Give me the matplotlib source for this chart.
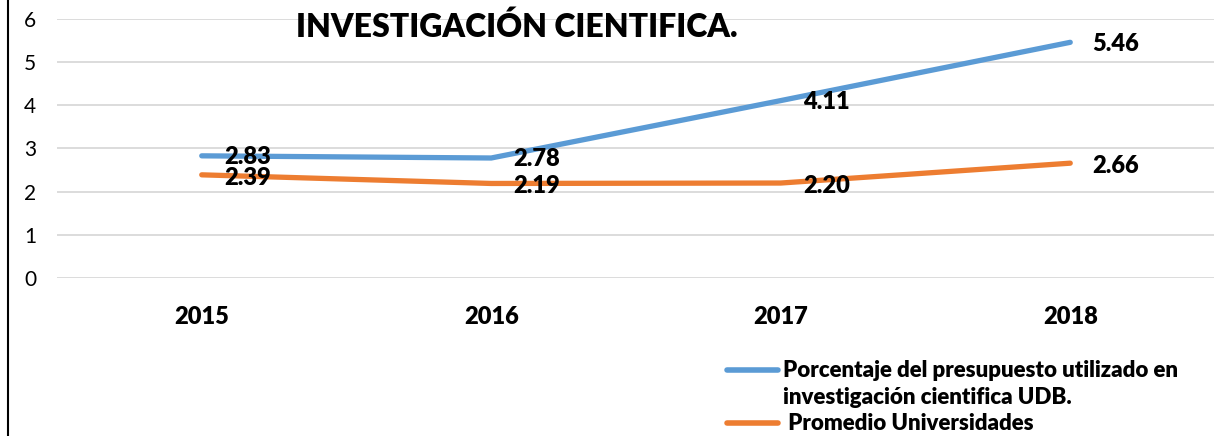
import matplotlib
matplotlib.use('Agg')

import matplotlib.pyplot as plt
from matplotlib.lines import Line2D


# ===============================
# DATA
# ===============================
years = ["2015", "2016", "2017", "2018"]
udb_pct = [2.83, 2.78, 4.11, 5.46]
promedio_pct = [2.39, 2.19, 2.20, 2.66]

udb_label = "Porcentaje del presupuesto utilizado en\ninvestigación cientifica UDB."
promedio_label = " Promedio Universidades"
title = "INVESTIGACIÓN CIENTIFICA."

blue = "#5B9BD5"
orange = "#ED7D31"

plt.rcParams['font.family'] = ['Lato', 'DejaVu Sans']
heavy = 'heavy'


# ===============================
# PLOT
# ===============================
W, H = 1214, 436
fig = plt.figure(figsize=(W / 100, H / 100), dpi=100)
ax = fig.add_axes([57 / W, 1 - 278 / H, (1215 - 57) / W, (278 - 19) / H])

x = range(len(years))
ax.plot(x, udb_pct, color=blue, linewidth=3.8, solid_capstyle='round', zorder=3)
ax.plot(x, promedio_pct, color=orange, linewidth=3.8, solid_capstyle='round', zorder=3)

for xi, v in zip(x, udb_pct):
    ax.annotate(f"{v:.2f}", (xi, v), xytext=(16, -1), textcoords='offset points',
                ha='left', va='center', fontsize=17, fontweight=heavy, zorder=4)
for xi, v in zip(x, promedio_pct):
    ax.annotate(f"{v:.2f}", (xi, v), xytext=(16, -2), textcoords='offset points',
                ha='left', va='center', fontsize=17, fontweight=heavy, zorder=4)

ax.set_xlim(-0.5, 3.5)
ax.set_ylim(0, 6)
ax.set_yticks(range(0, 7))
ax.set_xticks(list(x))
ax.set_xticklabels(years, fontsize=17, fontweight=heavy)
ax.tick_params(axis='y', labelsize=15, length=0, pad=15)
ax.tick_params(axis='x', length=0, pad=20)
ax.grid(axis='y', color='#D9D9D9', linewidth=1.3)
ax.set_axisbelow(True)
for s in ax.spines.values():
    s.set_visible(False)

fig.text(517 / W, 1 - 27 / H, title, ha='center', va='center',
         fontsize=23, fontweight=heavy)

# left border line
fig.add_artist(Line2D([8 / W, 8 / W], [0, 1], color='black', linewidth=1.5))

# legend
fig.add_artist(Line2D([727 / W, 778 / W], [1 - 370 / H, 1 - 370 / H],
                      color=blue, linewidth=4, solid_capstyle='round'))
fig.add_artist(Line2D([727 / W, 778 / W], [1 - 423 / H, 1 - 423 / H],
                      color=orange, linewidth=4, solid_capstyle='round'))
fig.text(783 / W, 1 - 384 / H, udb_label, ha='left', va='center',
         fontsize=16, fontweight=heavy, linespacing=1.3)
fig.text(783 / W, 1 - 423 / H, promedio_label, ha='left', va='center',
         fontsize=16, fontweight=heavy)

fig.savefig("out.png", dpi=100)
plt.close()
